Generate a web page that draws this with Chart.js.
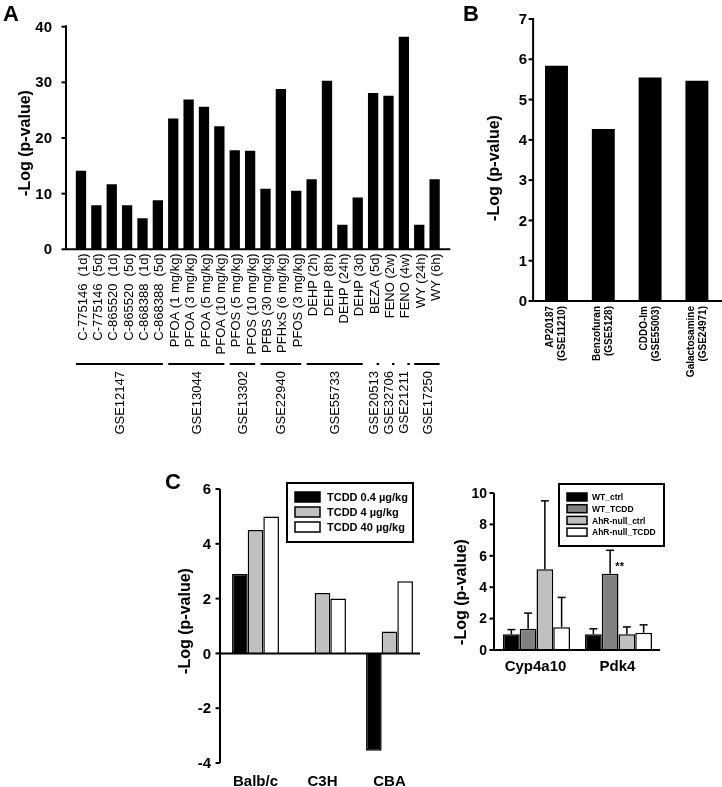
<!DOCTYPE html>
<html><head><meta charset="utf-8">
<script src="https://cdn.jsdelivr.net/npm/chart.js@4"></script>
<style>
html,body{margin:0;padding:0;background:#fff;}
#wrap{position:relative;width:722px;height:787px;overflow:hidden;background:#fff;}
canvas{position:absolute;}
</style></head><body>
<div id="wrap">
<canvas id="cA" width="460" height="450" style="left:0;top:0"></canvas>
<canvas id="cB" width="262" height="420" style="left:460px;top:0"></canvas>
<canvas id="cC1" width="280" height="327" style="left:150px;top:460px"></canvas>
<canvas id="cC2" width="282" height="327" style="left:440px;top:460px"></canvas>
</div>
<script>
// ---------- DATA ----------
const catA = ['C-775146  (1d)','C-775146  (5d)','C-865520  (1d)','C-865520  (5d)','C-868388  (1d)','C-868388  (5d)',
  'PFOA (1 mg/kg)','PFOA (3 mg/kg)','PFOA (5 mg/kg)','PFOA (10 mg/kg)','PFOS (5 mg/kg)','PFOS (10 mg/kg)',
  'PFBS (30 mg/kg)','PFHxS (6 mg/kg)','PFOS (3 mg/kg)','DEHP (2h)','DEHP (8h)','DEHP (24h)','DEHP (3d)',
  'BEZA (5d)','FENO (2w)','FENO (4w)','WY (24h)','WY (6h)'];
const valA = [14.1,7.9,11.7,7.9,5.6,8.8,23.5,26.9,25.6,22.1,17.8,17.7,10.9,28.8,10.5,12.6,30.3,4.4,9.3,28.1,27.6,38.2,4.4,12.6];
const groupNamesA = ['GSE12147','GSE13044','GSE13302','GSE22940','GSE55733','GSE20513','GSE32706','GSE21211','GSE17250'];
const groupSizesA = [6,4,2,3,4,1,1,1,2];
const ticksA = [0,10,20,30,40];

const catB = [['AP20187','(GSE11210)'],['Benzofuran','(GSE5128)'],['CDDO-Im','(GSE55003)'],['Galactosamine','(GSE24971)']];
const valB = [5.84,4.27,5.55,5.47];
const ticksB = [0,1,2,3,4,5,6,7];

const catC1 = ['Balb/c','C3H','CBA'];
const seriesC1 = ['TCDD 0.4 \u00b5g/kg','TCDD 4 \u00b5g/kg','TCDD 40 \u00b5g/kg'];
const tcdd04 = [2.9, null, -3.55];
const tcdd4 = [4.5, 2.2, 0.8];
const tcdd40 = [5.0, 2.0, 2.63];
const colorsC1 = ['#000000','#c0c0c0','#ffffff'];
const ticksC1 = [-4,-2,0,2,4,6];

const catC2 = ['Cyp4a10','Pdk4'];
const seriesC2 = ['WT_ctrl','WT_TCDD','AhR-null_ctrl','AhR-null_TCDD'];
const wtCtrl = [1.0, 1.0];
const wtTcdd = [1.35, 4.85];
const ahrCtrl = [5.15, 1.0];
const ahrTcdd = [1.45, 1.1];
const errWtCtrl = [0.3, 0.35];
const errWtTcdd = [1.0, 1.5];
const errAhrCtrl = [4.35, 0.47];
const errAhrTcdd = [1.9, 0.5];
const colorsC2 = ['#000000','#808080','#c0c0c0','#ffffff'];
const ticksC2 = [0,2,4,6,8,10];

// ---------- helpers ----------
const FF = '"Liberation Sans", Arial, Helvetica, sans-serif';
function line(ctx,x1,y1,x2,y2,w){ctx.save();ctx.lineWidth=w||2;ctx.strokeStyle='#000';ctx.beginPath();ctx.moveTo(x1,y1);ctx.lineTo(x2,y2);ctx.stroke();ctx.restore();}
function txt(ctx,s,x,y,font,align,base,rot){ctx.save();ctx.translate(x,y);if(rot)ctx.rotate(rot);ctx.font=font;ctx.textAlign=align;ctx.textBaseline=base;ctx.fillStyle='#000';ctx.fillText(s,0,0);ctx.restore();}
function yAxis(ctx,scale,ticks,ax,top,bottom,labRight,font){
  line(ctx,ax,top,ax,bottom,2);
  ticks.forEach(t=>{const py=scale.getPixelForValue(t);line(ctx,ax-4.5,py,ax,py,2);txt(ctx,String(t),labRight,py+1,font,'right','middle');});
}
const base = {animation:false,responsive:false,devicePixelRatio:1,
  plugins:{legend:{display:false},tooltip:{enabled:false}}};
function opts(pad,ymin,ymax,extra){
  return Object.assign({},base,{layout:{padding:pad},
    scales:{x:{display:false,grid:{display:false}},y:{display:false,min:ymin,max:ymax,grid:{display:false}}}},extra||{});
}

// ---------- Panel A ----------
new Chart(document.getElementById('cA'),{
  type:'bar',
  data:{labels:catA,datasets:[{data:valA,backgroundColor:'#000',borderWidth:0,barPercentage:0.67,categoryPercentage:1}]},
  options:opts({left:73.3,right:17.7,top:26.7,bottom:200.7},0,40),
  plugins:[{id:'decoA',afterDraw(chart){
    const ctx=chart.ctx,x=chart.scales.x,y=chart.scales.y,ca=chart.chartArea;
    const ax=ca.left-7.3, y0=y.getPixelForValue(0);
    yAxis(ctx,y,ticksA,ax,ca.top-1.5,y0,52,'bold 15px '+FF);
    line(ctx,ax,y0,ca.right+8,y0,2);
    catA.forEach((c,i)=>{txt(ctx,c,x.getPixelForValue(i)+2,y0+4,'13px '+FF,'right','middle',-Math.PI/2);});
    let s=0;
    groupNamesA.forEach((g,k)=>{
      const n=groupSizesA[k];const c1=x.getPixelForValue(s),c2=x.getPixelForValue(s+n-1);
      if(n>1) line(ctx,c1-5,364,c2+5,364,2); else line(ctx,c1+3.5,364,c1+6,364,2);
      txt(ctx,g,(c1+c2)/2+1,371,'13px '+FF,'right','middle',-Math.PI/2);
      s+=n;
    });
    txt(ctx,'-Log (p-value)',26,143,'bold 16px '+FF,'center','middle',-Math.PI/2);
    txt(ctx,'A',3,21,'bold 22px '+FF,'left','alphabetic');
  }}]
});

// ---------- Panel B ----------
new Chart(document.getElementById('cB'),{
  type:'bar',
  data:{labels:catB.map(l=>l.join(' ')),datasets:[{data:valB,backgroundColor:'#000',borderWidth:0,barPercentage:0.49,categoryPercentage:1}]},
  options:opts({left:73.1,right:1.7,top:19,bottom:119},0,7),
  plugins:[{id:'decoB',afterDraw(chart){
    const ctx=chart.ctx,x=chart.scales.x,y=chart.scales.y,ca=chart.chartArea;
    const ax=ca.left, y0=y.getPixelForValue(0);
    yAxis(ctx,y,ticksB,ax,ca.top-1,y0,67,'bold 15px '+FF);
    line(ctx,ax,y0,262,y0,2);
    catB.forEach((c,i)=>{const px=x.getPixelForValue(i);
      txt(ctx,c[0],px-6,y0+5,'bold 10px '+FF,'right','middle',-Math.PI/2);
      txt(ctx,c[1],px+6,y0+5,'bold 10px '+FF,'right','middle',-Math.PI/2);});
    txt(ctx,'-Log (p-value)',35,168,'bold 16px '+FF,'center','middle',-Math.PI/2);
    txt(ctx,'B',3,21,'bold 22px '+FF,'left','alphabetic');
  }}]
});

// ---------- Panel C left ----------
const dsC1=[tcdd04,tcdd4,tcdd40].map((d,i)=>({label:seriesC1[i],data:d,backgroundColor:colorsC1[i],borderColor:'#000',borderWidth:1.5,barPercentage:1,categoryPercentage:0.70}));
new Chart(document.getElementById('cC1'),{
  type:'bar',
  data:{labels:catC1,datasets:dsC1},
  options:opts({left:72,right:7,top:29,bottom:24},-4,6),
  plugins:[{id:'decoC1',afterDraw(chart){
    const ctx=chart.ctx,x=chart.scales.x,y=chart.scales.y,ca=chart.chartArea;
    const ax=ca.left-2, y0=y.getPixelForValue(0);
    yAxis(ctx,y,ticksC1,ax,ca.top,ca.bottom,61,'bold 15px '+FF);
    line(ctx,ax,y0,ca.right-3,y0,2);
    catC1.forEach((c,i)=>txt(ctx,c,x.getPixelForValue(i),322,'bold 15px '+FF,'center','middle'));
    txt(ctx,'-Log (p-value)',36,161,'bold 16px '+FF,'center','middle',-Math.PI/2);
    txt(ctx,'C',15,29,'bold 22px '+FF,'left','alphabetic');
    // legend
    ctx.save();ctx.lineWidth=2;ctx.strokeStyle='#000';ctx.fillStyle='#fff';ctx.fillRect(137,23,126,59);ctx.strokeRect(137,23,126,59);ctx.restore();
    seriesC1.forEach((s,i)=>{const cy=37+i*15;ctx.save();ctx.fillStyle=colorsC1[i];ctx.fillRect(145,cy-5,25,10);ctx.lineWidth=1.5;ctx.strokeStyle='#000';ctx.strokeRect(145,cy-5,25,10);ctx.restore();
      txt(ctx,s,177,cy+1,'bold 11px '+FF,'left','middle');});
  }}]
});

// ---------- Panel C right ----------
const valsC2=[wtCtrl,wtTcdd,ahrCtrl,ahrTcdd], errsC2=[errWtCtrl,errWtTcdd,errAhrCtrl,errAhrTcdd];
const dsC2=valsC2.map((d,i)=>({label:seriesC2[i],data:d,backgroundColor:colorsC2[i],borderColor:'#000',borderWidth:1.5,barPercentage:1,categoryPercentage:0.817}));
new Chart(document.getElementById('cC2'),{
  type:'bar',
  data:{labels:catC2,datasets:dsC2},
  options:opts({left:55.5,right:62.5,top:33,bottom:137},0,10),
  plugins:[{id:'decoC2',afterDraw(chart){
    const ctx=chart.ctx,x=chart.scales.x,y=chart.scales.y,ca=chart.chartArea;
    const ax=ca.left-1.5, y0=y.getPixelForValue(0);
    // error bars
    errsC2.forEach((e,di)=>{const meta=chart.getDatasetMeta(di);
      meta.data.forEach((bar,j)=>{const top=y.getPixelForValue(valsC2[di][j]+e[j]);
        line(ctx,bar.x,bar.y,bar.x,top,1.5);line(ctx,bar.x-4,top,bar.x+4,top,1.5);});});
    const b=chart.getDatasetMeta(1).data[1];
    txt(ctx,'**',b.x+9.5,b.y-7,'bold 11px '+FF,'center','middle');
    yAxis(ctx,y,ticksC2,ax,ca.top,y0,47,'bold 14px '+FF);
    line(ctx,ax,y0,ca.right+0.5,y0,2);
    catC2.forEach((c,i)=>txt(ctx,c,x.getPixelForValue(i)-1,207,'bold 15px '+FF,'center','middle'));
    txt(ctx,'-Log (p-value)',22,132,'bold 16px '+FF,'center','middle',-Math.PI/2);
    ctx.save();ctx.lineWidth=2;ctx.strokeStyle='#000';ctx.fillStyle='#fff';ctx.fillRect(119,24,105,62);ctx.strokeRect(119,24,105,62);ctx.restore();
    seriesC2.forEach((s,i)=>{const cy=37+i*11.7;ctx.save();ctx.fillStyle=colorsC2[i];ctx.fillRect(127,cy-4,20,8);ctx.lineWidth=1.5;ctx.strokeStyle='#000';ctx.strokeRect(127,cy-4,20,8);ctx.restore();
      txt(ctx,s,152,cy+1,'bold 8.5px '+FF,'left','middle');});
  }}]
});
</script>
</body></html>
